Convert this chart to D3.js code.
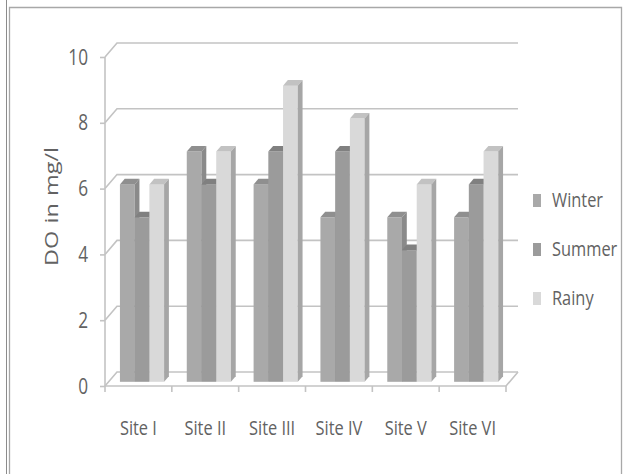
<!DOCTYPE html>
<html>
<head>
<meta charset="utf-8">
<script src="https://cdn.jsdelivr.net/npm/d3@7"></script>
<style>
  html, body { margin: 0; padding: 0; background: #fff; }
  svg { display: block; }
</style>
</head>
<body>
<script>
// Dissolved oxygen per site and season
const sites   = ["Site I", "Site II", "Site III", "Site IV", "Site V", "Site VI"];
const seasons = ["Winter", "Summer", "Rainy"];
const winter  = [6, 7, 6, 5, 5, 5];
const summer  = [5, 6, 7, 7, 4, 6];
const rainy   = [6, 7, 9, 8, 6, 7];
const yTicks  = [0, 2, 4, 6, 8, 10];
const yTitle  = "DO in mg/l";

const seriesValues = { Winter: winter, Summer: summer, Rainy: rainy };

const W = 625, H = 474;
const FONT = "'Open Sans', 'DejaVu Sans', sans-serif";
const TEXT_COLOR = "#626262";
const SQUEEZE = 0.82;      // narrow text face
const GRID = "#c3c3c3";

// box faces: front / top / side
const palette = {
  Winter: { front: "#a9a9a9", top: "#8f8f8f", side: "#8a8a8a" },
  Summer: { front: "#9b9b9b", top: "#808080", side: "#7b7b7b" },
  Rainy:  { front: "#d9d9d9", top: "#c2c2c2", side: "#a6a6a6" }
};

// oblique depth of the plot box
const DEPTH = { dx: 12, dy: -14 };
const BAR_FRONT = 0.3, BAR_BACK = 0.7;
const proj = f => [DEPTH.dx * f, DEPTH.dy * f];

const svg = d3.select("body").append("svg")
  .attr("width", W).attr("height", H);

// ---- outer frame ----
const frame = svg.append("g").attr("fill", "none");
frame.append("line").attr("x1", 6.5).attr("x2", 6.5).attr("y1", 0).attr("y2", H)
  .attr("stroke", "#8c8c8c").attr("stroke-width", 1);
frame.append("path")
  .attr("d", `M9.5,${H} V7.5 H621.5 V${H}`)
  .attr("stroke", "#a8a8a8").attr("stroke-width", 1.3);

// ---- scales ----
const x = d3.scaleBand().domain(sites).range([105, 506]).padding(0);
const xs = d3.scaleBand().domain(seasons).range([0, x.bandwidth()])
  .paddingInner(0).paddingOuter(0.77);
const y = d3.scaleLinear().domain([0, 10]).range([386, 57]);

const x0 = x.range()[0], x1 = x.range()[1];
const [bx, by] = proj(1);

// ---- walls and gridlines ----
const walls = svg.append("g").attr("stroke", GRID).attr("stroke-width", 1.6).attr("fill", "none");
yTicks.forEach(v => {
  const yy = y(v);
  // side wall diagonal + back wall line
  walls.append("path").attr("d", `M${x0},${yy} L${x0 + bx},${yy + by} H${x1 + bx}`);
});
// floor front and right edges
walls.append("path").attr("d", `M${x0},${y(0)} H${x1} L${x1 + bx},${y(0) + by}`);

// ---- value axis ----
const yAxisG = svg.append("g").attr("transform", `translate(${x0},0)`);
yAxisG.call(d3.axisLeft(y).tickValues(yTicks).tickSize(5).tickPadding(0).tickFormat(() => ""));
yAxisG.select(".domain").attr("stroke", GRID).attr("stroke-width", 1.6)
  .attr("d", `M0,${y(10)}V${y(0)}`);
yAxisG.selectAll(".tick line").attr("stroke", GRID).attr("stroke-width", 1.6);

yTicks.forEach(v => {
  svg.append("g").attr("transform", `translate(88,${y(v) + 7.5}) scale(${SQUEEZE},1.03)`)
    .append("text").attr("text-anchor", "end")
    .attr("font-family", FONT).attr("font-size", 21).attr("fill", TEXT_COLOR)
    .text(v);
});

// ---- category axis ----
const xAxisG = svg.append("g").attr("transform", `translate(0,${y(0)})`);
const bounds = sites.map(s => x(s)).concat([x1]);
bounds.forEach(b => {
  xAxisG.append("line").attr("x1", b).attr("x2", b).attr("y1", 0).attr("y2", 6)
    .attr("stroke", GRID).attr("stroke-width", 1.6);
});
sites.forEach(s => {
  svg.append("g").attr("transform", `translate(${x(s) + x.bandwidth() / 2},435) scale(${SQUEEZE},1.03)`)
    .append("text").attr("text-anchor", "middle")
    .attr("font-family", FONT).attr("font-size", 20).attr("fill", TEXT_COLOR)
    .text(s);
});

// ---- y title ----
svg.append("g").attr("transform", `translate(57.5,206.5) rotate(-90) scale(1,0.74)`)
  .append("text").attr("text-anchor", "middle")
  .attr("font-family", FONT).attr("font-size", 23.5).attr("fill", TEXT_COLOR)
  .attr("word-spacing", 1)
  .text(yTitle);

// ---- 3D columns ----
const [fdx, fdy] = proj(BAR_FRONT);
const [kdx, kdy] = proj(BAR_BACK - BAR_FRONT);
const bars = svg.append("g");
sites.forEach((s, i) => {
  seasons.forEach(season => {
    const v = seriesValues[season][i];
    const c = palette[season];
    const left = x(s) + xs(season) + fdx;
    const right = left + xs.bandwidth();
    const top = y(v) + fdy;
    const bottom = y(0) + fdy;
    const g = bars.append("g");
    g.append("rect").attr("x", left).attr("y", top)
      .attr("width", right - left).attr("height", bottom - top).attr("fill", c.front);
    g.append("path")
      .attr("d", `M${left},${top} L${right},${top} L${right + kdx},${top + kdy} L${left + kdx},${top + kdy} Z`)
      .attr("fill", c.top);
    g.append("path")
      .attr("d", `M${right},${top} L${right + kdx},${top + kdy} L${right + kdx},${bottom + kdy} L${right},${bottom} Z`)
      .attr("fill", c.side);
  });
});

// ---- legend ----
const legend = svg.append("g");
seasons.forEach((season, k) => {
  const base = 207 + k * 49;
  legend.append("rect").attr("x", 533).attr("y", base - 13)
    .attr("width", 8).attr("height", 13).attr("fill", palette[season].front);
  legend.append("g").attr("transform", `translate(552,${base}) scale(${SQUEEZE},1.03)`)
    .append("text").attr("font-family", FONT).attr("font-size", 20).attr("fill", TEXT_COLOR)
    .text(season);
});
</script>
</body>
</html>
